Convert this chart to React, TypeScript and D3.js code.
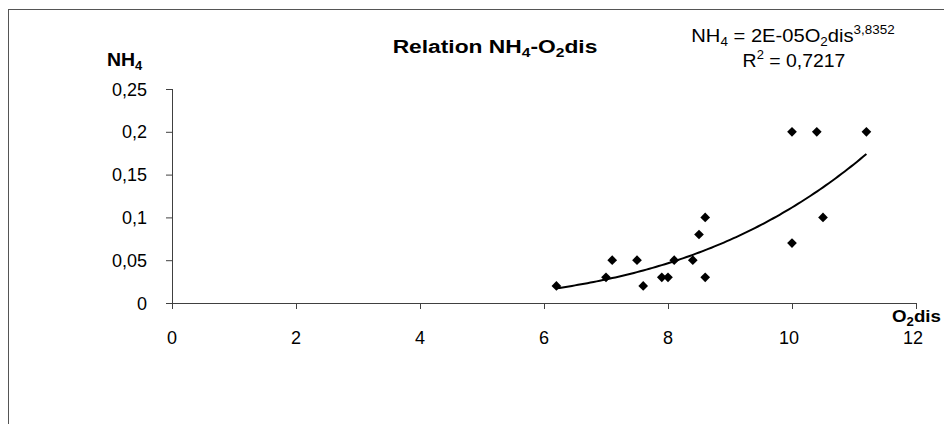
import React from "react";
import * as d3 from "d3";

const O2dis = [6.2, 7.0, 7.1, 7.5, 7.6, 7.9, 8.0, 8.1, 8.4, 8.5, 8.6, 8.6, 10.0, 10.0, 10.4, 10.5, 11.2];
const NH4 = [0.02, 0.03, 0.05, 0.05, 0.02, 0.03, 0.03, 0.05, 0.05, 0.08, 0.1, 0.03, 0.2, 0.07, 0.2, 0.1, 0.2];
const xTicks = [0, 2, 4, 6, 8, 10, 12];
const yTicks = [0, 0.05, 0.1, 0.15, 0.2, 0.25];

const W = 944;
const H = 424;
const FONT = "'Liberation Sans', Arial, sans-serif";

function powerFit(xs: number[], ys: number[]) {
  const lx = xs.map(Math.log);
  const ly = ys.map(Math.log);
  const mx = d3.mean(lx) as number;
  const my = d3.mean(ly) as number;
  let sxy = 0, sxx = 0;
  for (let i = 0; i < lx.length; i++) {
    sxy += (lx[i] - mx) * (ly[i] - my);
    sxx += (lx[i] - mx) * (lx[i] - mx);
  }
  const b = sxy / sxx;
  const a = Math.exp(my - b * mx);
  return { a, b };
}

export default function App() {
  const x = d3.scaleLinear().domain([0, 12]).range([172, 916]);
  const y = d3.scaleLinear().domain([0, 0.25]).range([303, 89]);
  const fmt = (v: number) => String(v).replace(".", ",");
  const { a, b } = powerFit(O2dis, NH4);
  const [xmin, xmax] = d3.extent(O2dis) as [number, number];
  const trendX = d3.range(0, 101).map((i) => xmin + ((xmax - xmin) * i) / 100);
  const line = d3
    .line<number>()
    .x((v) => x(v))
    .y((v) => y(a * Math.pow(v, b)));
  const diamond = d3.symbol().type(d3.symbolDiamond2).size(60)() as string;
  const axisColor = "#404040";

  return (
    <svg
      width={W}
      height={H}
      style={{ position: "absolute", left: 0, top: 0, overflow: "hidden", background: "#fff" }}
      fontFamily={FONT}
    >
      <rect x={8.5} y={9.5} width={1000} height={600} fill="#fff" stroke="#555" strokeWidth={1} />

      {/* title */}
      <g transform="translate(495,53) scale(1.2,1)">
        <text x={0} y={0} textAnchor="middle" fontSize={19} fontWeight="bold" fill="#000">
          Relation NH<tspan fontSize={13} dy={4}>4</tspan>
          <tspan dy={-4}>-O</tspan>
          <tspan fontSize={13} dy={4}>2</tspan>
          <tspan dy={-4}>dis</tspan>
        </text>
      </g>

      {/* equation */}
      <g transform="translate(793,42) scale(1.12,1)">
        <text x={0} y={0} textAnchor="middle" fontSize={18} fill="#000">
          NH<tspan fontSize={12} dy={4}>4</tspan>
          <tspan dy={-4}> = 2E-05O</tspan>
          <tspan fontSize={12} dy={4}>2</tspan>
          <tspan dy={-4}>dis</tspan>
          <tspan fontSize={12} dy={-8}>3,8352</tspan>
        </text>
      </g>
      <g transform="translate(794,67) scale(1.08,1)">
        <text x={0} y={0} textAnchor="middle" fontSize={18} fill="#000">
          R<tspan fontSize={12} dy={-8}>2</tspan>
          <tspan dy={8}> = 0,7217</tspan>
        </text>
      </g>

      {/* y axis label */}
      <g transform="translate(107,66) scale(1.08,1)">
        <text x={0} y={0} fontSize={18} fontWeight="bold" fill="#000">
          NH<tspan fontSize={12} dy={4}>4</tspan>
        </text>
      </g>
      {/* x axis label */}
      <g transform="translate(892,322) scale(1.1,1)">
        <text x={0} y={0} fontSize={17} fontWeight="bold" fill="#000">
          O<tspan fontSize={12} dy={4}>2</tspan>
          <tspan dy={-4}>dis</tspan>
        </text>
      </g>

      {/* axes */}
      <line x1={x(0)} x2={x(12)} y1={y(0) + 0.5} y2={y(0) + 0.5} stroke={axisColor} />
      <line x1={x(0) + 0.5} x2={x(0) + 0.5} y1={y(0.25)} y2={y(0)} stroke={axisColor} />
      {xTicks.map((t) => (
        <g key={"xt" + t}>
          <line x1={x(t) + 0.5} x2={x(t) + 0.5} y1={y(0)} y2={y(0) + 6} stroke={axisColor} />
          <text x={x(t) - (t >= 10 ? 3 : 0)} y={344} textAnchor="middle" fontSize={18} fill="#000">
            {fmt(t)}
          </text>
        </g>
      ))}
      {yTicks.map((t) => (
        <g key={"yt" + t}>
          <line x1={x(0) - 6} x2={x(0)} y1={y(t) + 0.5} y2={y(t) + 0.5} stroke={axisColor} />
          <text x={147} y={y(t) + 6.5} textAnchor="end" fontSize={18} fill="#000">
            {fmt(t)}
          </text>
        </g>
      ))}

      {/* trend line */}
      <path d={line(trendX) as string} fill="none" stroke="#000" strokeWidth={2} />

      {/* points */}
      {O2dis.map((v, i) => (
        <path key={"p" + i} d={diamond} transform={`translate(${x(v)},${y(NH4[i])})`} fill="#000" />
      ))}
    </svg>
  );
}
